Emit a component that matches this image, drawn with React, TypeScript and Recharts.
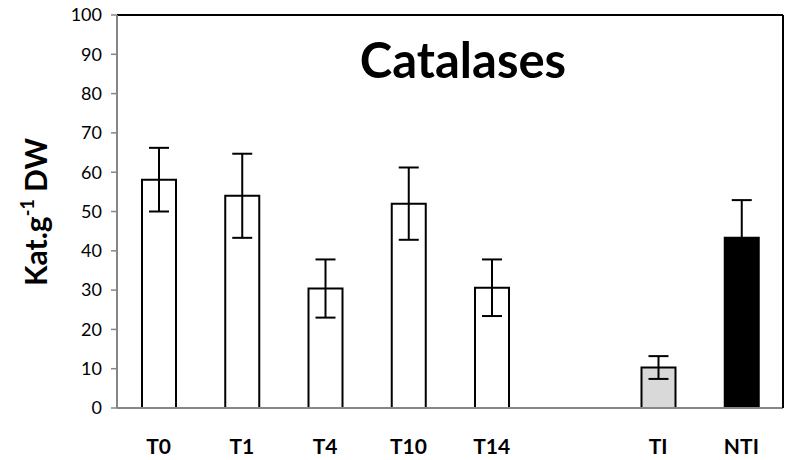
import { BarChart, Bar, XAxis, YAxis, Cell, ErrorBar, ReferenceLine } from "recharts";

const categories = ["T0", "T1", "T4", "T10", "T14", "", "TI", "NTI"];
const means = [58.1, 54.0, 30.4, 52.0, 30.6, null, 10.3, 43.3];
const errors = [8.1, 10.7, 7.4, 9.2, 7.2, null, 2.9, 9.6];
const fills = ["#ffffff", "#ffffff", "#ffffff", "#ffffff", "#ffffff", "#ffffff", "#d9d9d9", "#000000"];
const yTicks = [0, 10, 20, 30, 40, 50, 60, 70, 80, 90, 100];

const data = categories.map((c, i) => ({ name: c, value: means[i], err: errors[i] }));

const font = "Lato, 'Open Sans', sans-serif";

function YLabel() {
  return (
    <text
      transform="translate(47, 212) rotate(-90)"
      textAnchor="middle"
      fontFamily={font}
      fontWeight="bold"
      fontSize={30}
      fill="#000"
    >
      <tspan>Kat.g</tspan>
      <tspan fontSize={18} dy={-13}>-1</tspan>
      <tspan dy={13}> DW</tspan>
    </text>
  );
}

export default function App() {
  return (
    <div style={{ position: "absolute", left: 0, top: 0, width: 788, height: 460, background: "#fff" }}>
      <BarChart
        width={788}
        height={460}
        data={data}
        margin={{ top: 15, right: 0, bottom: 0, left: 0 }}
        barSize={34}
      >
        <XAxis
          dataKey="name"
          height={52}
          axisLine={{ stroke: "#868686", strokeWidth: 2 }}
          tickLine={false}
          tickSize={0}
          tickMargin={31}
          tick={{ fill: "#000", fontFamily: font, fontWeight: "bold", fontSize: 21 }}
        />
        <YAxis
          width={117}
          domain={[0, 100]}
          ticks={yTicks}
          interval={0}
          axisLine={{ stroke: "#868686", strokeWidth: 2 }}
          tickLine={{ stroke: "#868686", strokeWidth: 1.5 }}
          tickSize={6}
          tickMargin={9}
          tick={{ fill: "#000", fontFamily: font, fontSize: 18 }}
          label={<YLabel />}
        />
        <YAxis
          yAxisId="right"
          orientation="right"
          width={5}
          domain={[0, 100]}
          axisLine={{ stroke: "#000", strokeWidth: 2 }}
          tick={false}
          tickLine={false}
        />
        <ReferenceLine y={100} stroke="#000" strokeWidth={2} />
        <Bar dataKey="value" stroke="#000" strokeWidth={2} isAnimationActive={false}>
          {data.map((d, i) => (
            <Cell key={i} fill={fills[i]} />
          ))}
          <ErrorBar dataKey="err" width={10} stroke="#000" strokeWidth={2} />
        </Bar>
        <text
          x={463}
          y={78}
          textAnchor="middle"
          fontFamily={font}
          fontWeight="bold"
          fontSize={49}
          fill="#000"
        >
          Catalases
        </text>
      </BarChart>
    </div>
  );
}
